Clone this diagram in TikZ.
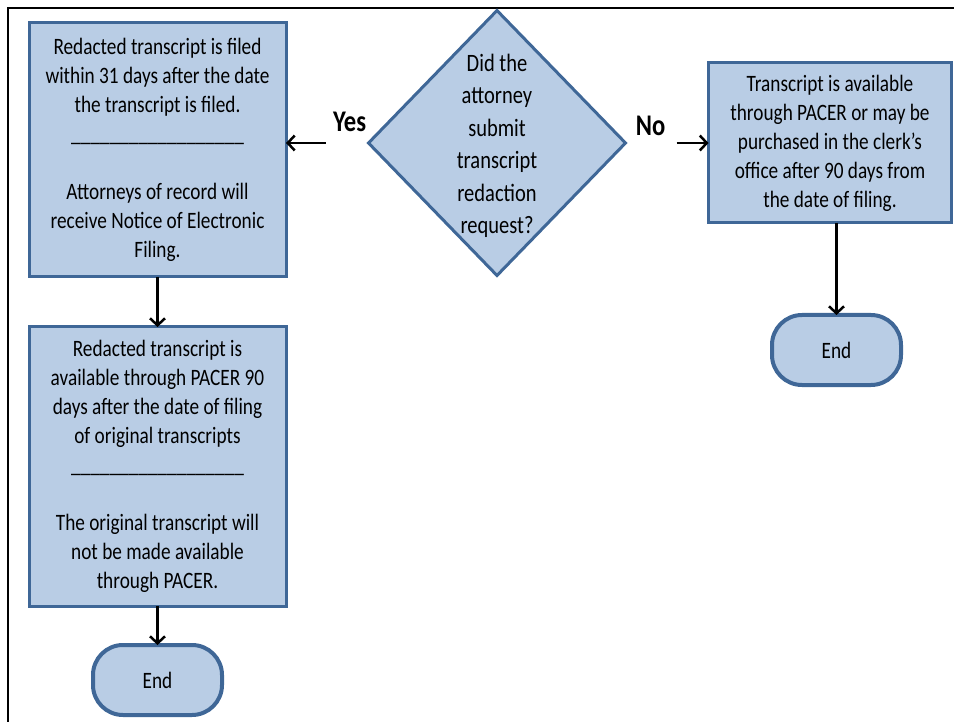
\documentclass[tikz,border=0pt]{standalone}
\usepackage{fontspec}
\setmainfont[FakeStretch=0.82]{Carlito}
\usetikzlibrary{arrows.meta,shapes.geometric,positioning}

\definecolor{boxfill}{HTML}{B9CDE5}
\definecolor{boxline}{HTML}{3F6797}
\newcommand{\divider}{\_\_\_\_\_\_\_\_\_\_\_\_\_\_\_\_\_\_}

\begin{document}
\begin{tikzpicture}[
                        x=1pt,y=-1pt,
                        ->,
                        >={Straight Barb[length=7pt,width=15pt]},
                        line width=2.5pt,
                        every node/.style={font=\fontsize{23.5}{29}\selectfont,outer sep=0pt}
                    ]
                    \tikzstyle{process}=[rectangle,draw=boxline,fill=boxfill,line width=3pt,align=center,inner sep=0pt]
                    \tikzstyle{decision}=[diamond,draw=boxline,fill=boxfill,line width=3pt,inner sep=0pt]
                    \tikzstyle{terminal}=[rectangle,rounded corners=30pt,draw=boxline,fill=boxfill,line width=4pt,minimum width=129,minimum height=70]
                    \tikzstyle{answer}=[font=\fontsize{30}{32}\selectfont\bfseries]

                    \useasboundingbox (0,0) rectangle (954,722);
                    \draw[-] (8,722) -- (8,8) -- (954,8);

                    \node[decision,minimum width=257,minimum height=265] (dia) at (497,143) {};
                    \node[align=center,font=\fontsize{25}{32.5}\selectfont] (diaText) at (497,146)
                        {Did the\\ attorney\\ submit\\ transcript\\ redaction\\ request?};

                    \node[process,minimum width=257,minimum height=254] (filed) at (157.5,150)
                        {Redacted transcript is filed\\ within 31 days after the date\\ the transcript is filed.\\ \divider\\[29pt]
                         Attorneys of record will\\ receive Notice of Electronic\\ Filing.};
                    \node[process,minimum width=257,minimum height=279] (avail) [below=50pt of filed]
                        {Redacted transcript is\\ available through PACER 90\\ days after the date of filing\\ of original transcripts\\ \divider\\[29pt]
                         The original transcript will\\ not be made available\\ through PACER.};
                    \node[terminal] (endL) [below=39pt of avail] {End};

                    \node[process,minimum width=243,minimum height=160] (pacer) [right=83pt of dia]
                        {Transcript is available\\ through PACER or may be\\ purchased in the clerk's\\ office after 90 days from\\ the date of filing.};
                    \node[terminal] (endR) [below=92pt of pacer,xshift=6.5pt] {End};

                    \draw[shorten <=43pt] (dia.west) -- node[at start,above left,answer,yshift=8pt,xshift=1pt] {Yes} (dia.west -| filed.east);
                    \draw[shorten <=51pt] (dia.east) -- node[at start,above right,answer,xshift=7pt,yshift=4pt] {No} (dia.east -| pacer.west);
                    \draw (filed) -- (avail);
                    \draw (avail) -- (endL);
                    \draw ([xshift=6.5pt]pacer.south) -- (endR);

                \end{tikzpicture}
\end{document}
